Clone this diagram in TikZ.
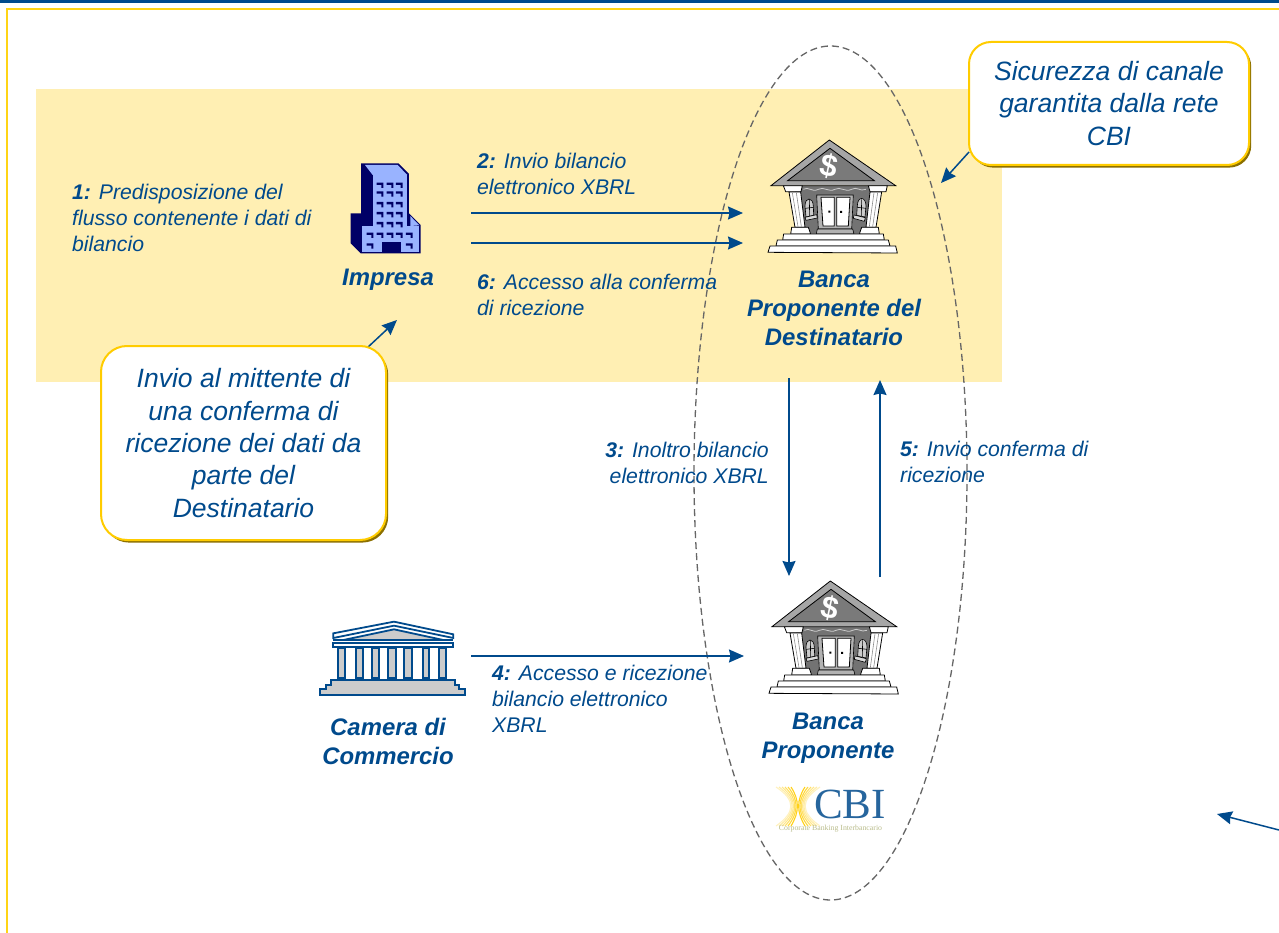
\documentclass[tikz,border=0pt]{standalone}
\usepackage{fontspec}
\setmainfont{Liberation Sans}
\newfontfamily\serifcbi{Liberation Serif}
\usetikzlibrary{arrows.meta,shadows}
\definecolor{cbiblue}{HTML}{004A8C}
\definecolor{gold}{HTML}{FFCC00}
\definecolor{framegold}{HTML}{FFD415}
\definecolor{band}{HTML}{FFEFB3}
\definecolor{navy}{HTML}{000066}
\definecolor{peri}{HTML}{99B3FF}
\tikzset{
  conn/.style={draw=cbiblue,line width=1.5pt,-{Stealth[length=15pt,width=13pt,inset=1.5pt]}},
  lab/.style={text=cbiblue,inner sep=0pt,align=left,font=\fontsize{21.2}{25.8}\selectfont\itshape},
  bigl/.style={text=cbiblue,inner sep=0pt,align=center,font=\fontsize{23.9}{29}\selectfont\bfseries\itshape},
  callout/.style={draw=gold,line width=2pt,fill=white,rounded corners=26pt,text=cbiblue,inner sep=0pt,align=center,
    font=\fontsize{26.5}{32.3}\selectfont\itshape,
    general shadow={shadow xshift=2.2pt,shadow yshift=-2.6pt,fill=gold!55!black}},
  bk/.style={draw=black,line width=.8pt,fill=white},
  thinb/.style={draw=black,line width=.6pt},
  bankpic/.pic={
    \begin{scope}[x=0.3333pt,y=-0.3333pt]
      \fill[black!55] (165,197) rectangle (398,345);
      \draw[black!20,line width=.8pt] (190,208) .. controls (205,198) and (215,218) .. (235,208) .. controls (250,198) and (265,218) .. (285,208) .. controls (300,198) and (315,218) .. (335,208) .. controls (350,198) and (360,216) .. (378,208);
      \draw[bk,fill=black!35] (268,60) -- (467,197) -- (93,197) -- cycle;
      \draw[bk,fill=black!52] (270,85) -- (403,182) -- (143,182) -- cycle;
      \node[text=white,inner sep=0pt,rotate=-12,font=\fontsize{31}{31}\selectfont\bfseries] (dollar) at (268,140) {\$};
      \draw[bk] (130,197) -- (187,197) -- (183,215) -- (137,215) -- cycle;
      \draw[bk] (385,197) -- (442,197) -- (438,215) -- (390,215) -- cycle;
      \draw[bk] (147,216) -- (182,216) -- (195,322) -- (165,322) -- cycle;
      \draw[black!45,line width=.6pt] (157,218) -- (174,320) (169,218) -- (184,320);
      \draw[bk] (390,216) -- (425,216) -- (408,322) -- (378,322) -- cycle;
      \draw[black!45,line width=.6pt] (402,218) -- (388,320) (413,218) -- (398,320);
      \draw[bk] (155,322) -- (205,322) -- (212,342) -- (152,342) -- cycle;
      \draw[bk] (365,322) -- (415,322) -- (418,342) -- (358,342) -- cycle;
      \draw[thinb,fill=black!30] (230,225) -- (340,225) -- (335,327) -- (235,327) -- cycle;
      \draw[bk] (243,232) -- (283,232) -- (283,318) -- (249,318) -- cycle;
      \draw[bk] (290,232) -- (330,232) -- (325,318) -- (290,318) -- cycle;
      \fill[black] (265,272) rectangle (271,278) (300,273) rectangle (306,279);
      \draw[thinb,fill=black!30] (232,327) -- (338,327) -- (342,342) -- (229,342) -- cycle;
      \draw[thinb,fill=black!20] (195,258) .. controls (195,230) and (219,230) .. (220,258) -- (221,286) -- (198,291) -- cycle;
      \draw[thinb] (208,238) -- (209,288) (196,265) -- (220,262);
      \draw[thinb,fill=black!15] (195,292) -- (230,284) -- (232,294) -- (198,301) -- cycle;
      \draw[thinb,fill=black!20] (352,258) .. controls (352,228) and (378,228) .. (378,258) -- (375,291) -- (350,286) -- cycle;
      \draw[thinb] (365,238) -- (364,288) (352,262) -- (378,265);
      \draw[thinb,fill=black!15] (342,285) -- (376,293) -- (373,304) -- (340,295) -- cycle;
      \draw[bk] (131,342) -- (430,342) -- (433,360) -- (128,360) -- cycle;
      \draw[bk] (112,360) -- (445,360) -- (450,378) -- (108,378) -- cycle;
      \draw[bk] (90,378) -- (467,378) -- (472,399) -- (84,397) -- cycle;
    \end{scope}
  }
}
\begin{document}
\begin{tikzpicture}[x=1pt,y=-1pt]
\path[use as bounding box,fill=white] (0,0) rectangle (1279,933);
\clip (0,0) rectangle (1279,933);
% frame
\fill[cbiblue] (0,0) rectangle (1279,3);
\draw[framegold,line width=2.6pt] (7,933) -- (7,9) -- (1279,9);
% band
\fill[band] (36,89) rectangle (1002,382);
% ellipse
\draw[black!60,line width=1.3pt,dash pattern=on 7pt off 4pt] (830.5,473) ellipse[x radius=136.5,y radius=427];
% banks
\pic at (740,120) {bankpic};
\pic at (741,561) {bankpic};
% building
\begin{scope}[shift={(330,150)},x=0.3333pt,y=-0.3333pt]
  \fill[navy] (93,40) -- (205,40) -- (237,72) -- (237,190) -- (272,225) -- (272,310) -- (92,310) -- (62,280) -- (62,190) -- (93,190) -- cycle;
  \fill[peri] (105,45) -- (203,45) -- (232,75) -- (128,75) -- cycle;
  \fill[peri] (128,75) rectangle (232,228);
  \fill[peri] (95,228) rectangle (268,305);
  \fill[peri] (241,198) -- (268,226) -- (241,228) -- cycle;
  \fill[navy] (155,277) rectangle (212,310);
  \foreach \yy in {98,124,156,186,216} \foreach \xx in {140,170,198}
    \fill[navy] (\xx,\yy) -- ++(20,0) -- ++(0,16) -- ++(-6,0) -- ++(0,-9) -- ++(-14,0) -- cycle;
  \foreach \xx in {110,140,170,198,228}
    \fill[navy] (\xx,248) -- ++(20,0) -- ++(0,16) -- ++(-6,0) -- ++(0,-9) -- ++(-14,0) -- cycle;
  \foreach \xx in {110,228}
    \fill[navy] (\xx,280) -- ++(20,0) -- ++(0,16) -- ++(-6,0) -- ++(0,-9) -- ++(-14,0) -- cycle;
\end{scope}
% temple
\begin{scope}[shift={(310,610)},x=0.3333pt,y=-0.3333pt,line width=1.8pt]
  \draw[cbiblue,fill=white] (70,70) -- (252,35) -- (430,73) -- (430,84) -- (252,47) -- (70,84) -- cycle;
  \draw[cbiblue,fill=black!20] (100,90) -- (252,58) -- (400,90) -- cycle;
  \draw[cbiblue] (70,91) -- (430,91);
  \draw[cbiblue,fill=white] (68,98) rectangle (428,112);
  \foreach \a/\b in {85/104,138/158,187/207,235/257,283/305,338/358,387/407}
    \draw[cbiblue,fill=black!20] (\a,115) rectangle (\b,203);
  \draw[cbiblue,fill=black!20] (62,210) -- (435,210) -- (435,225) -- (447,225) -- (447,237) -- (466,237) -- (466,255) -- (30,255) -- (30,237) -- (47,237) -- (47,225) -- (62,225) -- cycle;
\end{scope}
% CBI logo
\foreach \d/\o in {2/90,5/75,8/60,11/45,14/35,17/25}{
  \draw[gold,opacity=.\o,line width=1.1pt] (798-\d-5,787) .. controls (800-\d/4,800) and (800-\d/4,812) .. (798-\d-5,826);
  \draw[gold,opacity=.\o,line width=1.1pt] (798+\d+5,787) .. controls (796+\d/4,800) and (796+\d/4,812) .. (798+\d+5,826);
}
\node[text=cbiblue!85!white,inner sep=0pt,font=\serifcbi\fontsize{43}{43}\selectfont] (cbilogo) at (850,804) {CBI};
\node[text=cbiblue!45!gold!60!white,inner sep=0pt,font=\serifcbi\fontsize{7.8}{8}\selectfont] (cbisub) at (830.5,829) {Corporate Banking Interbancario};
% coordinates
\coordinate (a2s) at (471,213); \coordinate (a2e) at (743,213);
\coordinate (a6s) at (471,243); \coordinate (a6e) at (743,243);
\coordinate (a3s) at (789,378); \coordinate (a3e) at (789,576);
\coordinate (a5s) at (880,577); \coordinate (a5e) at (880,380);
\coordinate (a4s) at (471,656); \coordinate (a4e) at (744,656);
\coordinate (cas) at (367,348); \coordinate (cae) at (397,320);
\coordinate (cbs) at (969,152); \coordinate (cbe) at (941,183);
\coordinate (fs) at (1279,830); \coordinate (fe) at (1217,814);
\foreach \s/\e in {a2s/a2e,a6s/a6e,a3s/a3e,a5s/a5e,a4s/a4e,cas/cae,cbs/cbe,fs/fe}
  \draw[conn] (\s) -- (\e);
% labels
\node[lab,anchor=west] (l1) at (72,218) {\textbf{1:} Predisposizione del\\flusso contenente i dati di\\bilancio};
\node[lab,anchor=west] (l2) at (477,174) {\textbf{2:} Invio bilancio\\elettronico XBRL};
\node[lab,anchor=west] (l6) at (477,295) {\textbf{6:} Accesso alla conferma\\di ricezione};
\node[lab,anchor=east,align=right] (l3) at (769,463) {\textbf{3:} Inoltro bilancio\\elettronico XBRL};
\node[lab,anchor=west] (l5) at (900,462) {\textbf{5:} Invio conferma di\\ricezione};
\node[lab,anchor=west] (l4) at (492,699) {\textbf{4:} Accesso e ricezione\\bilancio elettronico\\XBRL};
\node[bigl] (n1) at (388,280) {Impresa};
\node[bigl] (n2) at (834,308) {Banca\\Proponente del\\Destinatario};
\node[bigl] (n3) at (828,738.5) {Banca\\Proponente};
\node[bigl] (n4) at (388,741) {Camera di\\Commercio};
% callouts
\node[callout,minimum width=285pt,minimum height=194pt] (c1) at (243.5,443) {Invio al mittente di\\una conferma di\\ricezione dei dati da\\parte del\\Destinatario};
\node[callout,minimum width=280pt,minimum height=123pt,rounded corners=22pt] (c2) at (1109,103.5) {Sicurezza di canale\\garantita dalla rete\\CBI};
\end{tikzpicture}
\end{document}
